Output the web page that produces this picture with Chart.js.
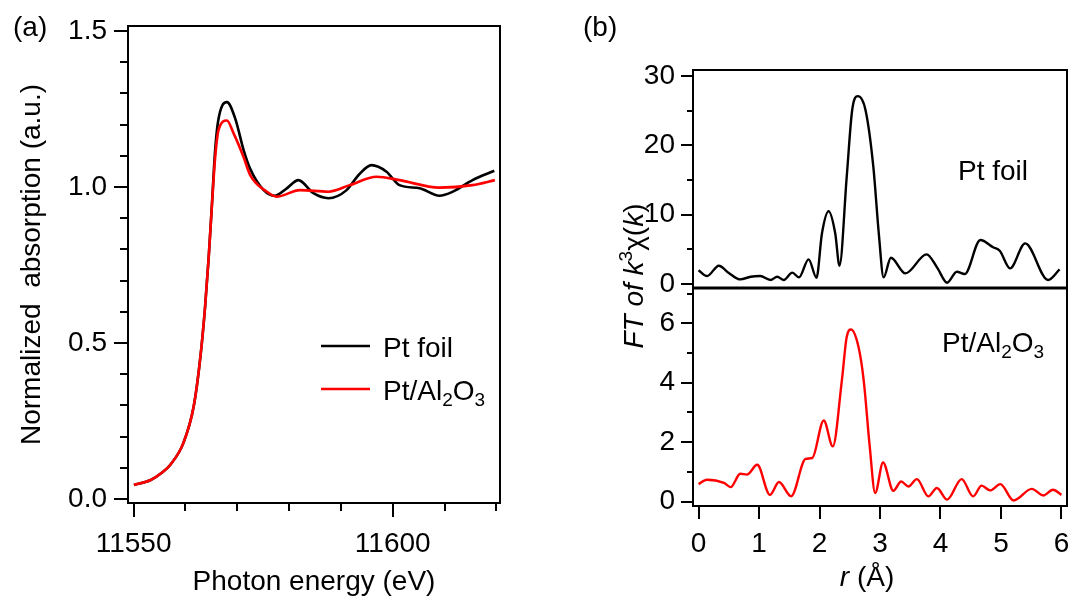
<!DOCTYPE html>
<html><head><meta charset="utf-8">
<script src="https://cdn.jsdelivr.net/npm/chart.js@4.4.1/dist/chart.umd.min.js"></script>
<style>
html,body{margin:0;padding:0;background:#fff;}
#wrap{position:relative;width:1073px;height:601px;overflow:hidden;background:#fff;}
canvas{position:absolute;left:0;top:0;}
</style></head><body>
<div id="wrap">
<canvas id="ca" width="1073" height="601"></canvas>
<canvas id="cb1" width="1073" height="601"></canvas>
<canvas id="cb2" width="1073" height="601"></canvas>
</div>
<script>
// ---------- Panel (a): XANES ----------
const footEnergy = [11550.06, 11553.3, 11555.5, 11557.1, 11559.6, 11561.6, 11562.9, 11563.8, 11564.5, 11565.1, 11565.7, 11566.3, 11568.0, 11569.6, 11571.2, 11572.5, 11575.1, 11577.3, 11579.5, 11581.8, 11584.7, 11587.6, 11591.1, 11593.5, 11595.9, 11598.8, 11601.3, 11605.2, 11609.0, 11611.6, 11615.4, 11619.6];
const footMu     = [0.045, 0.061, 0.085, 0.11, 0.179, 0.297, 0.457, 0.617, 0.777, 0.94, 1.11, 1.21, 1.272, 1.22, 1.12, 1.058, 0.99, 0.972, 0.995, 1.022, 0.98, 0.964, 0.99, 1.04, 1.07, 1.049, 1.006, 0.996, 0.972, 0.985, 1.022, 1.052];
const aloxEnergy = [11550.06, 11553.3, 11555.5, 11557.1, 11559.6, 11561.6, 11562.9, 11563.8, 11564.5, 11565.1, 11565.75, 11566.4, 11568.0, 11569.3, 11571.2, 11572.5, 11575.7, 11577.6, 11582.1, 11587.6, 11591.7, 11596.9, 11601.3, 11609.0, 11615.4, 11619.7];
const aloxMu     = [0.045, 0.061, 0.085, 0.11, 0.179, 0.297, 0.457, 0.617, 0.777, 0.937, 1.097, 1.183, 1.213, 1.172, 1.097, 1.038, 0.985, 0.969, 0.99, 0.985, 1.006, 1.033, 1.022, 0.998, 1.006, 1.022];
const xanesXTicks = [11550, 11600];
const xanesXMinor = [11560, 11570, 11580, 11590, 11610, 11620];
const xanesYTicks = [0.0, 0.5, 1.0, 1.5];
const xanesYMinor = [0.1, 0.2, 0.3, 0.4, 0.6, 0.7, 0.8, 0.9, 1.1, 1.2, 1.3, 1.4];
const seriesNames = ['Pt foil', 'Pt/Al_2O_3'];

// ---------- Panel (b): FT-EXAFS ----------
const foilR   = [0.0, 0.14, 0.335, 0.5, 0.69, 0.86, 1.02, 1.19, 1.30, 1.41, 1.55, 1.66, 1.82, 1.95, 2.04, 2.15, 2.26, 2.33, 2.45, 2.54, 2.635, 2.76, 2.89, 2.98, 3.06, 3.18, 3.42, 3.77, 3.95, 4.11, 4.27, 4.40, 4.66, 4.87, 4.98, 5.15, 5.40, 5.78, 5.97];
const foilFT  = [2.0, 1.15, 2.64, 1.6, 0.67, 1.05, 1.15, 0.58, 1.05, 0.58, 1.64, 0.96, 3.56, 0.91, 7.3, 10.5, 7.3, 2.64, 15.5, 25.1, 27.1, 25.1, 16.9, 7.3, 0.96, 3.8, 1.54, 4.28, 2.3, 0.19, 1.78, 1.44, 6.35, 5.3, 4.8, 2.26, 5.87, 0.58, 2.1];
const aloxR   = [0.0, 0.14, 0.42, 0.53, 0.69, 0.80, 0.97, 1.18, 1.33, 1.53, 1.77, 1.88, 2.07, 2.22, 2.37, 2.45, 2.52, 2.645, 2.73, 2.83, 2.92, 3.05, 3.22, 3.35, 3.47, 3.61, 3.80, 3.94, 4.11, 4.35, 4.54, 4.68, 4.82, 4.99, 5.21, 5.51, 5.70, 5.86, 6.0];
const aloxFT  = [0.59, 0.74, 0.63, 0.49, 0.94, 0.91, 1.24, 0.23, 0.66, 0.18, 1.44, 1.47, 2.73, 1.86, 4.09, 5.55, 5.79, 5.2, 4.09, 1.86, 0.29, 1.32, 0.37, 0.68, 0.51, 0.76, 0.18, 0.46, 0.07, 0.76, 0.18, 0.54, 0.38, 0.59, 0.04, 0.43, 0.21, 0.40, 0.23];
const ftXTicks = [0, 1, 2, 3, 4, 5, 6];
const foilYTicks = [0, 10, 20, 30];
const foilYMinor = [5, 15, 25];
const aloxYTicks = [0, 2, 4, 6];
const aloxYMinor = [1, 3, 5, 7];

const FONT = '"Liberation Sans", Arial, Helvetica, sans-serif';
const FS = 28;
const pairs = (xs, ys) => xs.map((x, i) => ({x, y: ys[i]}));

function parseRich(s){
  const segs=[]; let it=false;
  for(let i=0;i<s.length;i++){
    const c=s[i];
    if(c==='*'){it=!it;continue;}
    if(c==='_'||c==='^'){segs.push({t:s[i+1],it,mode:c==='_'?'sub':'sup'});i++;continue;}
    const last=segs[segs.length-1];
    if(last&&last.mode==='n'&&last.it===it) last.t+=c; else segs.push({t:c,it,mode:'n'});
  }
  return segs;
}
function drawRich(ctx,s,x,y,size,align){
  const segs=parseRich(s);
  const fontFor=(sg)=>{const sz=sg.mode==='n'?size:Math.round(size*0.68);return (sg.it?'italic ':'')+sz+'px '+FONT;};
  let w=0; segs.forEach(sg=>{ctx.font=fontFor(sg); sg.w=ctx.measureText(sg.t).width; w+=sg.w;});
  let cx = align==='center'? x-w/2 : align==='right'? x-w : x;
  ctx.textBaseline='alphabetic'; ctx.textAlign='left'; ctx.fillStyle='#000';
  segs.forEach(sg=>{ctx.font=fontFor(sg); const dy=sg.mode==='sub'?size*0.2:sg.mode==='sup'?-size*0.38:0; ctx.fillText(sg.t,cx,y+dy); cx+=sg.w;});
}

const decorPlugin = {
  id: 'decor',
  afterDatasetsDraw(chart, args, opts){
    const ctx = chart.ctx, a = chart.chartArea;
    ctx.save();
    (opts.minor||[]).forEach(m=>{
      const sc = chart.scales[m.axis];
      ctx.strokeStyle='#000'; ctx.lineWidth=2;
      m.values.forEach(v=>{
        const p = Math.round(sc.getPixelForValue(v));
        ctx.beginPath();
        if(m.axis==='x'){ ctx.moveTo(p, a.bottom); ctx.lineTo(p, a.bottom+m.len); }
        else { ctx.moveTo(a.left, p); ctx.lineTo(a.left-m.len, p); }
        ctx.stroke();
      });
    });
    ctx.strokeStyle='#000'; ctx.lineWidth=2;
    ctx.strokeRect(a.left, a.top, a.right-a.left, a.bottom-a.top);
    if(opts.legend){
      const L = opts.legend;
      chart.data.datasets.forEach((ds,i)=>{
        const y = L.y + i*L.dy;
        ctx.strokeStyle = ds.borderColor; ctx.lineWidth = 2.5;
        ctx.beginPath(); ctx.moveTo(L.x, y); ctx.lineTo(L.x+L.len, y); ctx.stroke();
        drawRich(ctx, ds.label, L.x+L.len+L.gap, y+11, FS, 'left');
      });
    }
    (opts.texts||[]).forEach(t=>{
      if(t.rotate){
        ctx.save(); ctx.translate(t.x, t.y); ctx.rotate(-Math.PI/2);
        drawRich(ctx, t.text, 0, 0, t.size||FS, t.align||'center');
        ctx.restore();
      } else drawRich(ctx, t.text, t.x, t.y, t.size||FS, t.align||'left');
    });
    ctx.restore();
  }
};

function axis(o){
  return {
    type: 'linear', min: o.min, max: o.max, display: o.display!==false,
    position: o.position,
    afterBuildTicks: sc => { sc.ticks = o.ticks.map(v=>({value:v})); },
    afterFit: sc => {
      if(o.size!==undefined){ if(o.position==='left') sc.width=o.size; else sc.height=o.size; }
      sc.paddingLeft=0; sc.paddingRight=0; sc.paddingTop=0; sc.paddingBottom=0;
    },
    border: {display: false},
    grid: {drawOnChartArea:false, drawTicks:true, tickLength:o.tick, tickWidth:2, tickColor:'#000', color:'#000', lineWidth:2},
    ticks: {color:'#000', font:{family:FONT, size:FS}, padding:o.pad, autoSkip:false, maxRotation:0,
            callback: v => o.fmt ? o.fmt(v) : String(v)},
    title: o.title ? {display:true, text:o.title, color:'#000', font:{family:FONT, size:FS}, padding:o.tpad} : {display:false}
  };
}

Chart.defaults.font.family = FONT;

new Chart(document.getElementById('ca'), {
  type: 'line',
  data: { datasets: [
    {label: seriesNames[0], data: pairs(footEnergy, footMu), borderColor:'#000', borderWidth:2.6, pointRadius:0, cubicInterpolationMode:'monotone', order:2},
    {label: seriesNames[1], data: pairs(aloxEnergy, aloxMu), borderColor:'#ff0000', borderWidth:2.6, pointRadius:0, cubicInterpolationMode:'monotone', order:1}
  ]},
  options: {
    responsive:false, animation:false, devicePixelRatio:1,
    layout:{padding:{left:0, right:573, top:26, bottom:0}},
    scales: {
      x: axis({min:11548.92, max:11620.7, position:'bottom', ticks:xanesXTicks, tick:14, pad:10, size:98,
               title:'Photon energy (eV)', tpad:{top:0,bottom:2}}),
      y: axis({min:-0.0128, max:1.516, position:'left', ticks:xanesYTicks, tick:14, pad:7, size:128,
               fmt:v=>v.toFixed(1), title:'Normalized  absorption (a.u.)', tpad:{top:15,bottom:0}})
    },
    plugins: {
      legend:{display:false}, tooltip:{enabled:false},
      decor: {
        minor:[{axis:'x', values:xanesXMinor, len:8},{axis:'y', values:xanesYMinor, len:8}],
        legend:{x:321, y:346, dy:43, len:49, gap:13},
        texts:[{text:'(a)', x:13, y:36}]
      }
    }
  },
  plugins:[decorPlugin]
});

new Chart(document.getElementById('cb1'), {
  type: 'line',
  data: { datasets: [
    {label: seriesNames[0], data: pairs(foilR, foilFT), borderColor:'#000', borderWidth:2.4, pointRadius:0, cubicInterpolationMode:'monotone'}
  ]},
  options: {
    responsive:false, animation:false, devicePixelRatio:1,
    layout:{padding:{left:600, right:6, top:70, bottom:313.5}},
    scales: {
      x: axis({min:-0.092, max:6.092, position:'bottom', ticks:ftXTicks, tick:12, pad:8, display:false}),
      y: axis({min:-0.5, max:30.87, position:'left', ticks:foilYTicks, tick:12, pad:6, size:93})
    },
    plugins: {
      legend:{display:false}, tooltip:{enabled:false},
      decor: {
        minor:[{axis:'y', values:foilYMinor, len:6}],
        texts:[{text:'(b)', x:583, y:36},
               {text:'Pt foil', x:958, y:180},
               {text:'*FT of k*^3χ(*k*)', x:643, y:276, rotate:true, align:'center'}]
      }
    }
  },
  plugins:[decorPlugin]
});

new Chart(document.getElementById('cb2'), {
  type: 'line',
  data: { datasets: [
    {label: seriesNames[1], data: pairs(aloxR, aloxFT), borderColor:'#ff0000', borderWidth:2.4, pointRadius:0, cubicInterpolationMode:'monotone'}
  ]},
  options: {
    responsive:false, animation:false, devicePixelRatio:1,
    layout:{padding:{left:600, right:6, top:288.5, bottom:0}},
    scales: {
      x: axis({min:-0.092, max:6.092, position:'bottom', ticks:ftXTicks, tick:13, pad:8, size:95}),
      y: axis({min:-0.145, max:7.17, position:'left', ticks:aloxYTicks, tick:12, pad:6, size:93})
    },
    plugins: {
      legend:{display:false}, tooltip:{enabled:false},
      decor: {
        minor:[{axis:'y', values:aloxYMinor, len:6}],
        texts:[{text:'Pt/Al_2O_3', x:942, y:352},
               {text:'*r* (Å)', x:867, y:586, align:'center'}]
      }
    }
  },
  plugins:[decorPlugin]
});
</script>
</body></html>
